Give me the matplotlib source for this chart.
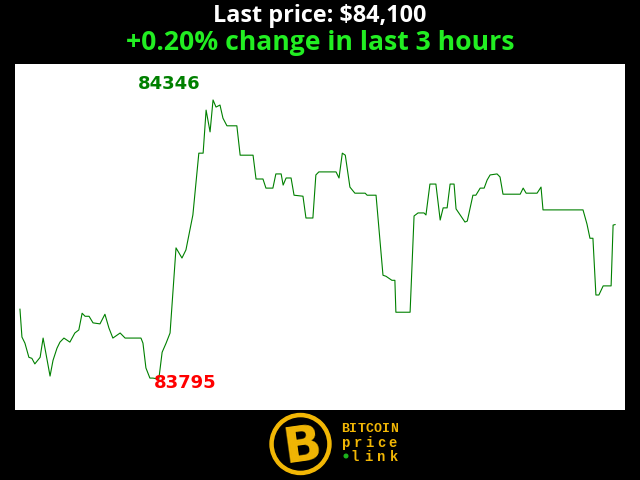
import numpy as np
import matplotlib
matplotlib.use("Agg")
import matplotlib.pyplot as plt
from matplotlib.patches import Circle

# price over the last 3 hours (minutes from start, USD)
minutes = [0, 0.6, 1.5, 2.7, 3.6, 4.5, 6.1, 7.0, 9.1, 10.0, 11.2, 12.1, 13.3, 14.2,
           15.1, 16.6, 17.8, 18.8, 19.7, 20.9, 22.1, 24.2, 25.7, 26.9, 28.1, 30.3,
           31.8, 36.6, 37.2, 38.1, 39.3, 40.2, 42.0, 43.0, 44.2, 45.4, 47.2, 49.0,
           50.2, 52.3, 54.1, 55.4, 56.3, 57.5, 58.4, 59.3, 60.5, 61.4, 62.6, 65.6,
           66.6, 70.5, 71.4, 73.5, 74.4, 76.5, 77.4, 79.0, 79.6, 80.5, 82.0, 82.9,
           85.6, 86.5, 88.6, 89.5, 90.4, 95.6, 96.5, 97.5, 98.4, 99.8, 101.3, 104.4,
           105.0, 107.7, 109.8, 110.7, 112.5, 113.4, 113.7, 118.0, 119.2, 120.4,
           122.2, 122.8, 124.0, 125.8, 127.1, 128.0, 129.2, 130.1, 131.3, 131.9,
           134.6, 135.3, 137.0, 137.9, 139.2, 140.4, 141.3, 142.2, 144.3, 145.2,
           146.1, 151.3, 152.2, 153.1, 156.4, 157.6, 158.2, 170.3, 171.5, 172.4,
           173.3, 174.2, 175.1, 176.4, 178.8, 179.4, 180.0]
prices = [83933, 83878, 83866, 83838, 83836, 83825, 83838, 83876, 83801, 83832, 83856,
          83868, 83876, 83872, 83868, 83886, 83892, 83925, 83919, 83919, 83906, 83904,
          83923, 83896, 83876, 83886, 83876, 83876, 83866, 83817, 83797, 83797, 83795,
          83848, 83866, 83886, 84054, 84034, 84050, 84119, 84241, 84241, 84326, 84283,
          84346, 84332, 84336, 84310, 84295, 84295, 84237, 84237, 84190, 84190, 84172,
          84172, 84200, 84200, 84178, 84192, 84192, 84158, 84156, 84113, 84113, 84198,
          84204, 84204, 84192, 84241, 84237, 84174, 84162, 84162, 84158, 84158, 84000,
          83998, 83990, 83990, 83927, 83927, 84117, 84123, 84123, 84119, 84180, 84180,
          84109, 84133, 84133, 84180, 84180, 84131, 84105, 84107, 84158, 84158, 84172,
          84172, 84188, 84198, 84200, 84194, 84160, 84160, 84172, 84162, 84162, 84174,
          84129, 84129, 84101, 84073, 84073, 83961, 83961, 83979, 83979, 84099, 84100]

last_price = 84100
change_pct = 0.20
hours = 3

fig = plt.figure(figsize=(6.4, 4.8), dpi=100, facecolor="black")
ax = fig.add_axes([15 / 640, 70 / 480, 610 / 640, 346 / 480])
ax.set_facecolor("white")
ax.plot(minutes, prices, color="#008000", lw=0.8)
ax.set_xlim(-1.5, 183)
ax.set_ylim(83734, 84417)
ax.set_xticks([])
ax.set_yticks([])
for s in ax.spines.values():
    s.set_visible(False)

# max / min labels
imax = int(np.argmax(prices))
imin = int(np.argmin(prices))
ax.annotate(str(prices[imax]), (minutes[imax], prices[imax]), xytext=(-44, 16),
            textcoords="offset pixels", ha="center", va="center", color="#008000",
            fontsize=13, fontweight="bold", family="DejaVu Sans")
ax.annotate(str(prices[imin]), (minutes[imin], prices[imin]), xytext=(26, -4),
            textcoords="offset pixels", ha="center", va="center", color="#ff0000",
            fontsize=13, fontweight="bold", family="DejaVu Sans")

# header
fig.text(0.5, 1 - 16 / 480, f"Last price: ${last_price:,}", color="white",
         ha="center", va="center", fontsize=16.8, fontweight="bold", family="Open Sans")
fig.text(0.5, 1 - 43 / 480, f"+{change_pct:.2f}% change in last {hours} hours",
         color="#22ee22", ha="center", va="center", fontsize=19.1, fontweight="bold",
         family="Open Sans")

# logo
gold = "#f2b705"
lax = fig.add_axes([0, 0, 1, 1], facecolor="none")
lax.set_xlim(0, 640)
lax.set_ylim(480, 0)
lax.axis("off")
lax.add_patch(Circle((300.5, 444), 30.5, color=gold))
lax.add_patch(Circle((300.5, 444), 26, color="black"))
lax.text(302, 446, "B", color=gold, fontsize=36, fontweight="heavy", family="DejaVu Sans",
         ha="center", va="center", rotation=8)


def spread(txt, x0, x1, y, size, color):
    xs = np.linspace(x0, x1, len(txt))
    for ch, xc in zip(txt, xs):
        lax.text(xc, y, ch, color=color, fontsize=size, fontweight="bold",
                 family="Liberation Mono", ha="center", va="center")


spread("BITCOIN", 345, 394, 429, 9.5, gold)
spread("price", 346, 393, 443, 10, gold)
spread("link", 355, 394, 457, 10, gold)
lax.add_patch(Circle((346, 456), 1.8, color="#1db31d"))

fig.savefig("out.png", dpi=100, facecolor="black")
